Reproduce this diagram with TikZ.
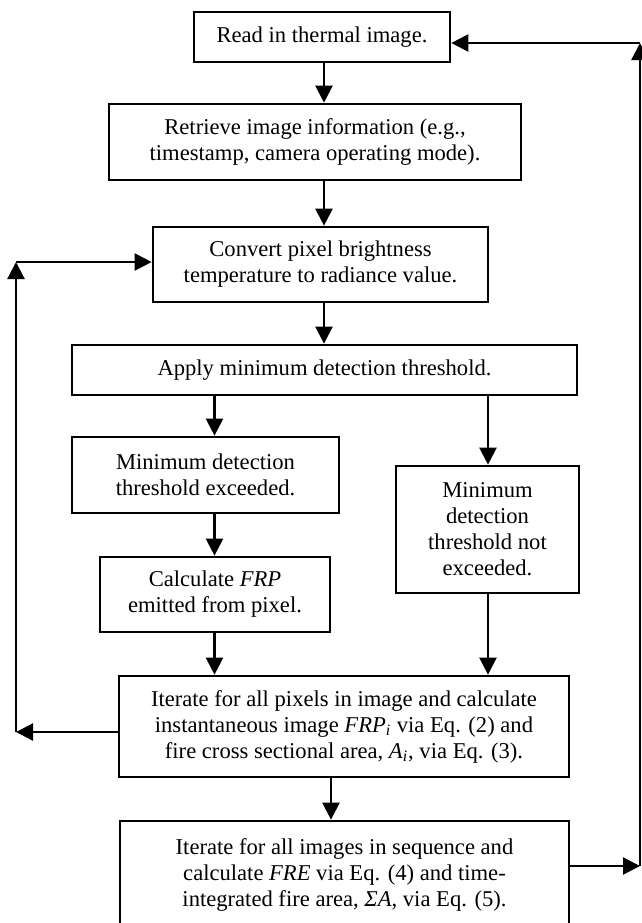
\documentclass[tikz,border=0pt]{standalone}
\usepackage{fontspec}
\setmainfont{Liberation Serif}
\usetikzlibrary{arrows.meta}
\begin{document}
\begin{tikzpicture}[x=0.5pt,y=-0.5pt,
  box/.style={draw, line width=1.35pt, align=center, inner sep=0pt,
    font=\fontsize{11.3}{13}\selectfont},
  arr/.style={line width=1.15pt, -{Triangle[length=8.5pt,width=8.5pt]}}]
\useasboundingbox (0,0) rectangle (642,923);

\node[box, minimum width=128pt, minimum height=25pt] (b1) at (322,37)
  {Read in thermal image.};
\node[box, minimum width=206pt, minimum height=38pt] (b2) at (315,142)
  {Retrieve image information (e.g.,\\ timestamp, camera operating mode).};
\node[box, minimum width=167.5pt, minimum height=37.5pt] (b3) at (320.5,264.5)
  {Convert pixel brightness\\ temperature to radiance value.};
\node[box, minimum width=252.5pt, minimum height=25pt] (b4) at (324.5,370)
  {Apply minimum detection threshold.};
\node[box, minimum width=133.5pt, minimum height=38pt] (b5) at (205.5,475)
  {Minimum detection\\ threshold exceeded.};
\node[box, minimum width=91.5pt, minimum height=63.5pt] (b6) at (487.5,529.5)
  {Minimum\\ detection\\ threshold not\\ exceeded.};
\node[box, minimum width=115pt, minimum height=37.5pt] (b7) at (215,594.5)
  {Calculate \textit{FRP}\\ emitted from pixel.};
\node[box, minimum width=225pt, minimum height=50.5pt] (b8) at (344,726.5)
  {Iterate for all pixels in image and calculate\\ instantaneous image \textit{FRP}\textsubscript{\textit{i}} via Eq. (2) and\\ fire cross sectional area, \textit{A}\textsubscript{\textit{i}}, via Eq. (3).};
\node[box, minimum width=224.5pt, minimum height=54pt] (b9) at (344.5,875)
  {Iterate for all images in sequence and\\ calculate \textit{FRE} via Eq. (4) and time-\\ integrated fire area, \textit{ΣA}, via Eq. (5).};

% column positions
\coordinate (cA) at (324,0);
\coordinate (cL) at (214.5,0);
\coordinate (cR) at (488,0);
\coordinate (cB) at (331,0);
\coordinate (lx) at (16,0);
\coordinate (rx) at (640,0);
\coordinate (ly1) at (0,732);
\coordinate (ly2) at (0,262);
\coordinate (ry1) at (0,866);
\coordinate (ry2) at (0,43);

\draw[arr] (b1.south -| cA) -- (b2.north -| cA);
\draw[arr] (b2.south -| cA) -- (b3.north -| cA);
\draw[arr] (b3.south -| cA) -- (b4.north -| cA);
\draw[arr] (b4.south -| cL) -- (b5.north -| cL);
\draw[arr] (b4.south -| cR) -- (b6.north -| cR);
\draw[arr] (b5.south -| cL) -- (b7.north -| cL);
\draw[arr] (b7.south -| cL) -- (b8.north -| cL);
\draw[arr] (b6.south -| cR) -- (b8.north -| cR);
\draw[arr] (b8.south -| cB) -- (b9.north -| cB);

% left feedback loop
\draw[arr] (b8.west |- ly1) -- (lx |- ly1);
\draw[arr] (lx |- ly1) -- (lx |- ly2);
\draw[arr] (lx |- ly2) -- (b3.west |- ly2);

% right feedback loop
\draw[arr] (b9.east |- ry1) -- (rx |- ry1);
\draw[arr] (rx |- ry1) -- (rx |- ry2);
\draw[arr] (rx |- ry2) -- (b1.east |- ry2);
\end{tikzpicture}
\end{document}
